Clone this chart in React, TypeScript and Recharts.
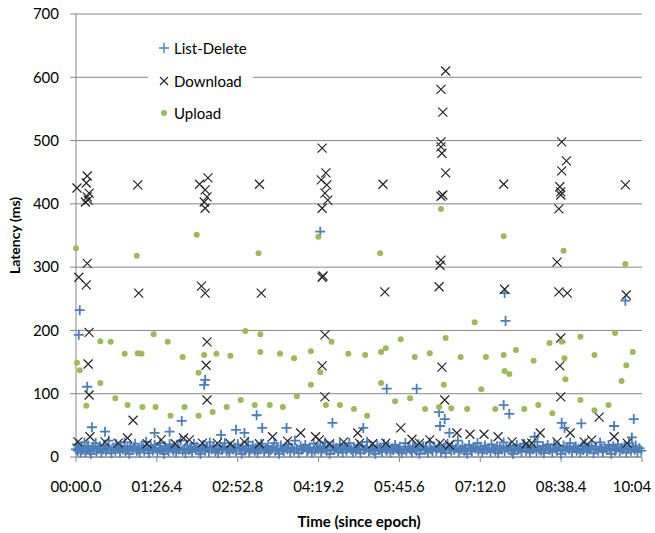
import React from "react";
import { ScatterChart, Scatter, XAxis, YAxis, CartesianGrid, Legend, Label } from "recharts";

type Pt = [number, number];

// x in seconds since epoch, y in ms
const timeTicks = [0, 86.4, 172.8, 259.2, 345.6, 432, 518.4, 604.8];
const timeTickLabels = ["00:00.0", "01:26.4", "02:52.8", "04:19.2", "05:45.6", "07:12.0", "08:38.4", "10:04"];
const latencyTicks = [0, 100, 200, 300, 400, 500, 600, 700];

const listDeleteBand: Pt[] = [
  [0, 12], [1, 20], [2, 10], [3, 14], [5, 7], [6, 17], [7, 11], [9, 23], [10, 8], [12, 14], [13, 18], [15, 10], [16, 5],
  [18, 16], [19, 12], [21, 22], [22, 9], [24, 13], [26, 17], [27, 7], [29, 12], [30, 19], [32, 10], [34, 14], [35, 26],
  [37, 11], [38, 6], [40, 15], [42, 10], [43, 20], [45, 13], [47, 8], [48, 17], [50, 12], [52, 23], [53, 9], [55, 14],
  [57, 5], [58, 17], [60, 11], [62, 15], [63, 21], [65, 10], [67, 12], [68, 7], [70, 18], [72, 14], [73, 10], [75, 24],
  [77, 12], [78, 6], [80, 16], [82, 10], [84, 19], [85, 13], [87, 8], [89, 14], [90, 22], [92, 11], [94, 5], [95, 17],
  [97, 12], [99, 9], [100, 20], [102, 14], [104, 10], [105, 17], [107, 7], [109, 15], [110, 12], [112, 26], [114, 10],
  [116, 13], [117, 6], [119, 18], [121, 11], [123, 14], [124, 8], [126, 21], [128, 12], [129, 16], [131, 10], [133, 5],
  [135, 14], [136, 19], [138, 10], [140, 15], [142, 8], [143, 23], [145, 12], [147, 17], [149, 9], [150, 13], [152, 6],
  [154, 18], [156, 11], [157, 14], [159, 22], [161, 10], [163, 12], [164, 7], [166, 17], [168, 12], [170, 15], [171, 9],
  [173, 20], [175, 13], [177, 5], [178, 17], [180, 10], [182, 14], [184, 24], [185, 8], [187, 12], [189, 18], [191, 10],
  [192, 14], [194, 6], [196, 12], [198, 21], [199, 16], [201, 9], [203, 13], [205, 17], [206, 7], [208, 11], [210, 15],
  [212, 22], [213, 10], [215, 14], [217, 5], [219, 18], [220, 12], [222, 9], [224, 16], [226, 12], [227, 20], [229, 8],
  [231, 14], [233, 10], [234, 26], [236, 13], [238, 6], [240, 17], [241, 11], [243, 14], [245, 19], [247, 9], [248, 12],
  [250, 15], [252, 7], [254, 21], [255, 10], [257, 14], [259, 12], [261, 17], [262, 8], [264, 13], [266, 23], [268, 10],
  [269, 16], [271, 5], [273, 12], [275, 18], [276, 11], [278, 14], [280, 9], [282, 20], [283, 13], [285, 7], [287, 17],
  [289, 10], [290, 14], [292, 22], [294, 12], [296, 8], [297, 15], [299, 10], [301, 19], [303, 12], [304, 6], [306, 17],
  [308, 11], [310, 14], [311, 24], [313, 9], [315, 13], [317, 16], [318, 10], [320, 5], [322, 18], [324, 12], [325, 14],
  [327, 8], [329, 21], [331, 12], [332, 10], [334, 17], [336, 7], [338, 14], [339, 11], [341, 19], [343, 13], [345, 9],
  [346, 16], [348, 6], [350, 12], [352, 22], [353, 10], [355, 15], [357, 12], [359, 8], [360, 17], [362, 14], [364, 10],
  [366, 20], [367, 5], [369, 13], [371, 17], [373, 11], [374, 14], [376, 7], [378, 23], [380, 12], [381, 9], [383, 16],
  [385, 10], [387, 14], [388, 18], [390, 8], [392, 12], [394, 15], [395, 6], [397, 21], [399, 13], [401, 10], [402, 17],
  [404, 11], [406, 14], [408, 26], [409, 8], [411, 12], [413, 17], [415, 10], [416, 14], [418, 5], [420, 19], [422, 12],
  [423, 9], [425, 15], [427, 13], [429, 22], [430, 10], [432, 16], [434, 7], [436, 12], [437, 18], [439, 11], [441, 14],
  [443, 8], [444, 20], [446, 13], [448, 10], [450, 17], [451, 6], [453, 14], [455, 12], [457, 23], [458, 9], [460, 15],
  [462, 12], [464, 17], [465, 10], [467, 5], [469, 14], [471, 19], [472, 11], [474, 13], [476, 8], [478, 16], [479, 21],
  [481, 10], [483, 14], [485, 7], [486, 17], [488, 12], [490, 15], [492, 9], [493, 24], [495, 12], [497, 10], [499, 17],
  [500, 6], [502, 14], [504, 19], [506, 11], [507, 14], [509, 8], [511, 20], [513, 13], [514, 10], [516, 16], [518, 5],
  [520, 12], [521, 18], [523, 10], [525, 15], [527, 12], [528, 22], [530, 8], [532, 14], [534, 17], [535, 10], [537, 13],
  [539, 7], [541, 17], [542, 11], [544, 21], [546, 9], [548, 14], [549, 12], [551, 18], [553, 6], [555, 12], [556, 16],
  [558, 10], [560, 23], [562, 13], [563, 8], [565, 15], [567, 11], [569, 19], [570, 14], [572, 5], [574, 17], [576, 10],
  [577, 12], [579, 20], [581, 9], [583, 14], [584, 12], [586, 17], [588, 7], [590, 13], [591, 22], [593, 10], [595, 15],
  [597, 11], [598, 18], [600, 8], [602, 14], [604, 10],
];

const listDeleteOutliers: Pt[] = [
  [4, 232], [3, 193], [12, 111], [17, 47], [31, 40], [84, 38], [100, 40], [113, 57], [137, 114], [138, 122], [155, 35],
  [171, 43], [180, 38], [193, 66], [199, 46], [225, 46], [261, 356], [274, 54], [307, 46], [332, 108], [364, 108],
  [388, 71], [389, 49], [394, 60], [399, 38], [457, 82], [458, 259], [459, 215], [463, 68], [490, 32], [519, 54],
  [522, 46], [540, 53], [575, 49], [587, 247], [594, 31], [596, 60],
];

const downloadHigh: Pt[] = [
  [1, 425], [12, 444], [11, 433], [14, 417], [12, 411], [13, 406], [10, 403], [12, 306], [3, 284], [11, 272], [14, 197],
  [13, 147], [14, 98], [66, 430], [67, 259], [61, 58],
  [132, 431], [141, 441], [138, 422], [140, 411], [137, 403], [138, 393], [134, 270], [138, 259], [140, 182], [139, 145],
  [140, 90], [196, 431], [198, 259],
  [263, 488], [267, 449], [262, 438], [268, 430], [266, 417], [269, 406], [263, 393], [263, 284], [264, 286], [266, 193],
  [263, 144], [266, 95], [328, 431], [330, 261], [347, 46],
  [395, 610], [390, 581], [392, 545], [390, 498], [390, 490], [391, 480], [395, 449], [390, 412], [392, 414], [390, 311],
  [389, 303], [388, 269], [391, 142], [394, 90], [457, 431], [458, 265],
  [519, 498], [524, 468], [519, 452], [517, 427], [518, 419], [518, 414], [516, 392], [514, 308], [516, 261], [525, 259],
  [518, 188], [517, 144], [518, 95], [559, 63], [587, 430], [588, 256],
];

const downloadLow: Pt[] = [
  [2, 24], [15, 32], [31, 24], [45, 22], [55, 30], [76, 21], [91, 27], [106, 21], [115, 30], [121, 27], [135, 22],
  [151, 22], [165, 21], [180, 24], [196, 21], [210, 32], [226, 25], [240, 38], [256, 32], [260, 27], [271, 21],
  [286, 24], [301, 38], [303, 22], [317, 21], [331, 22], [359, 28], [367, 22], [378, 27], [389, 22], [399, 19],
  [407, 38], [421, 36], [436, 36], [451, 32], [466, 24], [481, 21], [487, 22], [496, 38], [514, 24], [528, 38],
  [543, 24], [551, 27], [575, 32], [589, 22],
];

const upload: Pt[] = [
  [0, 330], [65, 318], [129, 351], [195, 322], [259, 348], [325, 322], [390, 392], [457, 349], [521, 326], [587, 305],
  [1, 149], [4, 137], [11, 81], [26, 117], [26, 183], [37, 182], [42, 93], [52, 163], [55, 82], [66, 164], [70, 163],
  [71, 79], [83, 194], [85, 79], [98, 182], [101, 65], [114, 158], [116, 79], [131, 133], [131, 65], [137, 161],
  [146, 71], [150, 163], [161, 79], [165, 160], [176, 90], [181, 199], [191, 82], [197, 194], [197, 166],
  [207, 82], [218, 163], [221, 79], [233, 156], [236, 96], [251, 167], [251, 114], [261, 134], [267, 82], [273, 182],
  [282, 82], [291, 163], [297, 76], [309, 161], [311, 65], [326, 166], [331, 172], [326, 117], [341, 88], [347, 186],
  [357, 93], [362, 158], [373, 76], [378, 164], [388, 79], [393, 114], [395, 188], [401, 77],
  [411, 158], [418, 76], [426, 213], [433, 107], [438, 158], [448, 76], [457, 161], [458, 136], [463, 131], [470, 169],
  [479, 76], [489, 152], [494, 82], [506, 180], [509, 69], [519, 182], [522, 156], [523, 123], [539, 190], [539, 90],
  [554, 161], [554, 74], [569, 82], [576, 196], [583, 120], [588, 145], [595, 166],
];

const toRows = (pts: Pt[]) => pts.map(([t, v]) => ({ t, v }));

const BLUE = "#4a7ebb";
const DARK = "#262626";
const GREEN = "#9bbb59";
const GRID = "#868686";

const PlusMark = (p: any) => (
  <path d={`M${p.cx - 5},${p.cy}h10M${p.cx},${p.cy - 5}v10`} stroke={BLUE} strokeWidth={1.8} fill="none" />
);
const CrossMark = (p: any) => (
  <path d={`M${p.cx - 4.5},${p.cy - 4.5}l9,9M${p.cx - 4.5},${p.cy + 4.5}l9,-9`} stroke={DARK} strokeWidth={1.2} fill="none" />
);
const DotMark = (p: any) => <circle cx={p.cx} cy={p.cy} r={3} fill={GREEN} />;

function TimeTick(props: any) {
  const { x, y, payload } = props;
  const i = timeTicks.indexOf(payload.value);
  const last = i === timeTicks.length - 1;
  return (
    <text x={last ? x - 10 : x} y={y} dy="0.71em" textAnchor="middle" fontSize={15} fill="#000">
      {timeTickLabels[i]}
    </text>
  );
}

const legendItems = [
  { name: "List-Delete", icon: <path d="M1,6h10M6,1v10" stroke={BLUE} strokeWidth={1.4} /> },
  { name: "Download", icon: <path d="M2,2l8,8M2,10l8,-8" stroke={DARK} strokeWidth={1.1} /> },
  { name: "Upload", icon: <circle cx={6} cy={6} r={3} fill={GREEN} /> },
];

function LegendBox() {
  return (
    <div style={{ paddingLeft: 10 }}>
      {legendItems.map((it) => (
        <div key={it.name} style={{ height: 32.5, display: "flex", alignItems: "center", fontSize: 15, color: "#000" }}>
          <svg width={12} height={12} style={{ marginRight: 4 }}>{it.icon}</svg>
          <span>{it.name}</span>
        </div>
      ))}
    </div>
  );
}

export default function App() {
  return (
    <div style={{ position: "absolute", left: 0, top: 0, width: 655, height: 533, background: "#fff", fontFamily: "Lato, sans-serif" }}>
      <ScatterChart width={655} height={533} margin={{ top: 14, right: 13, left: 16, bottom: 36 }}>
        <CartesianGrid stroke={GRID} vertical={false} />
        <XAxis
          type="number"
          dataKey="t"
          domain={[0, 604.8]}
          ticks={timeTicks}
          interval={0}
          height={40}
          stroke={GRID}
          tickSize={5}
          tickMargin={19}
          tick={<TimeTick />}
        >
          <Label value="Time (since  epoch)" position="bottom" offset={19} style={{ fontSize: 15, fontWeight: 700, fill: "#000", whiteSpace: "pre" }} />
        </XAxis>
        <YAxis
          type="number"
          dataKey="v"
          domain={[0, 700]}
          ticks={latencyTicks}
          interval={0}
          width={60}
          stroke={GRID}
          tickSize={6}
          tickMargin={11}
          tick={{ fontSize: 15, fill: "#000" }}
        >
          <Label value="Latency (ms)" angle={-90} position="insideLeft" offset={-1} style={{ fontSize: 14, fontWeight: 700, fill: "#000", textAnchor: "middle" }} />
        </YAxis>
        <Legend
          layout="vertical"
          align="center"
          verticalAlign="middle"
          content={() => <LegendBox />}
          wrapperStyle={{ left: 148, top: 32, width: 105, height: 98, background: "#fff" }}
        />
        <Scatter name="List-Delete" data={toRows([...listDeleteBand, ...listDeleteOutliers])} shape={PlusMark} isAnimationActive={false} />
        <Scatter name="Download" data={toRows([...downloadHigh, ...downloadLow])} shape={CrossMark} isAnimationActive={false} />
        <Scatter name="Upload" data={toRows(upload)} shape={DotMark} isAnimationActive={false} />
      </ScatterChart>
    </div>
  );
}
